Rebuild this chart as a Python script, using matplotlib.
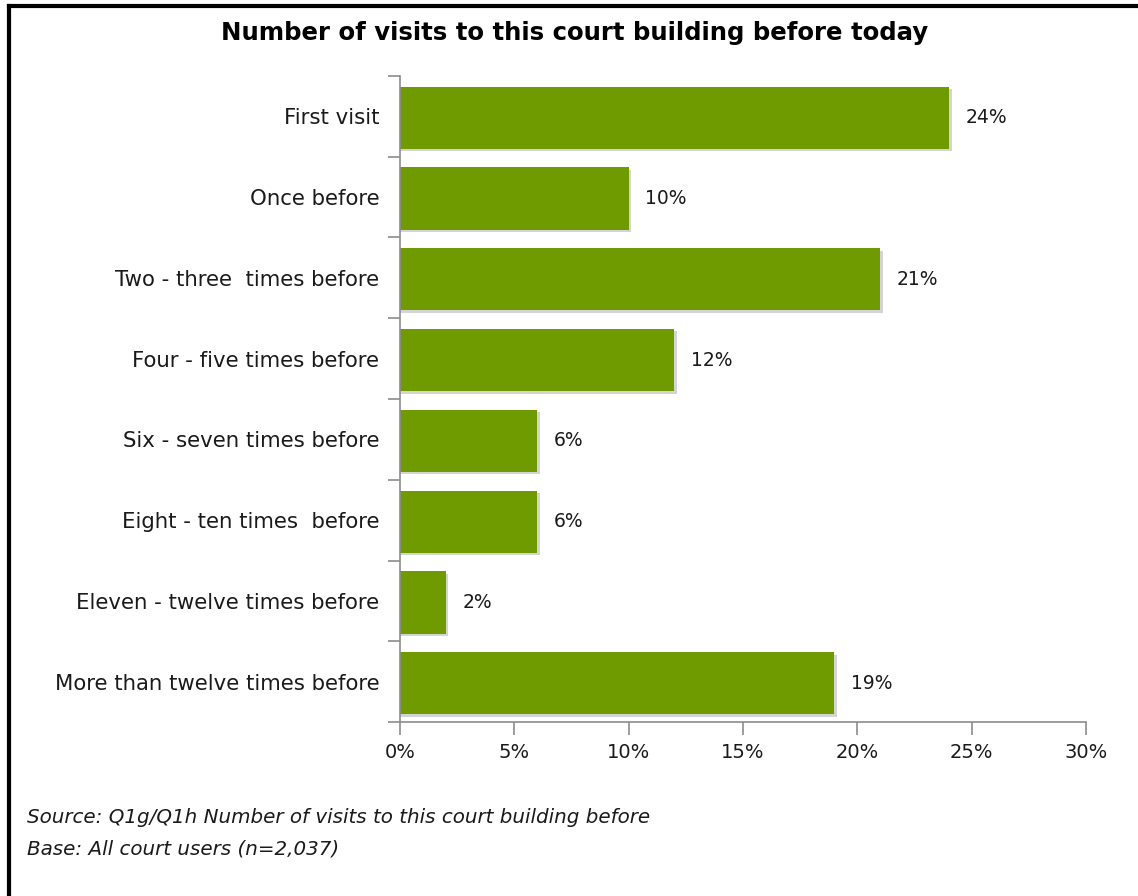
import matplotlib

matplotlib.use("Agg")
import matplotlib.pyplot as plt  # noqa: E402
from matplotlib.lines import Line2D  # noqa: E402
from matplotlib.ticker import FixedLocator, PercentFormatter  # noqa: E402

categories = [
    "First visit",
    "Once before",
    "Two - three  times before",
    "Four - five times before",
    "Six - seven times before",
    "Eight - ten times  before",
    "Eleven - twelve times before",
    "More than twelve times before",
]
shares = [24, 10, 21, 12, 6, 6, 2, 19]
x_ticks = [0, 5, 10, 15, 20, 25, 30]

title = "Number of visits to this court building before today"
source_note = "Source: Q1g/Q1h Number of visits to this court building before"
base_note = "Base: All court users (n=2,037)"

BAR = "#6f9a00"
AXIS = "#8c8c8c"
INK = "#1a1a1a"

fig = plt.figure(figsize=(11.38, 8.96), dpi=100)
ax = fig.add_axes([0.3515, 0.194, 0.6028, 0.7215])

n = len(categories)
ypos = list(range(n))
# soft drop shadow under each bar
ax.barh([y + 0.05 for y in ypos], [v + 0.12 for v in shares], height=0.77,
        color="#d4d4d4", zorder=1)
ax.barh([y + 0.02 for y in ypos], shares, height=0.77, color=BAR, zorder=2)

for y, v in zip(ypos, shares):
    ax.text(v + 0.72, y + 0.02, f"{v}%", va="center", ha="left",
            fontsize=13.5, color=INK)

ax.set_xlim(0, 30)
ax.set_ylim(n - 0.5, -0.5)
ax.xaxis.set_major_locator(FixedLocator(x_ticks))
ax.xaxis.set_major_formatter(PercentFormatter(decimals=0))

ax.set_yticks(ypos)
ax.set_yticklabels(categories, fontsize=15.3, color=INK)
ax.tick_params(axis="y", which="major", length=0, pad=15)
ax.yaxis.set_minor_locator(FixedLocator([y - 0.5 for y in range(n + 1)]))
ax.tick_params(axis="y", which="minor", length=9, color=AXIS, width=1.2)
ax.tick_params(axis="x", length=9, color=AXIS, width=1.2, labelsize=14,
               labelcolor=INK, pad=6)

for side in ("top", "right"):
    ax.spines[side].set_visible(False)
for side in ("left", "bottom"):
    ax.spines[side].set_color(AXIS)
    ax.spines[side].set_linewidth(1.2)

fig.text(0.505, 0.963, title, ha="center", va="center", fontsize=17.6,
         fontweight="bold", color="black")
fig.text(0.024, 0.088, source_note, ha="left", va="center", fontsize=14.3,
         style="italic", color=INK)
fig.text(0.024, 0.053, base_note, ha="left", va="center", fontsize=14.3,
         style="italic", color=INK)

# outer frame: top and left edges
fig.add_artist(Line2D([0.0075, 1.0], [0.9935, 0.9935], color="black", lw=3,
                      transform=fig.transFigure))
fig.add_artist(Line2D([0.0075, 0.0075], [0.0, 0.9935], color="black", lw=3,
                      transform=fig.transFigure))

fig.savefig("out.png", dpi=100)
